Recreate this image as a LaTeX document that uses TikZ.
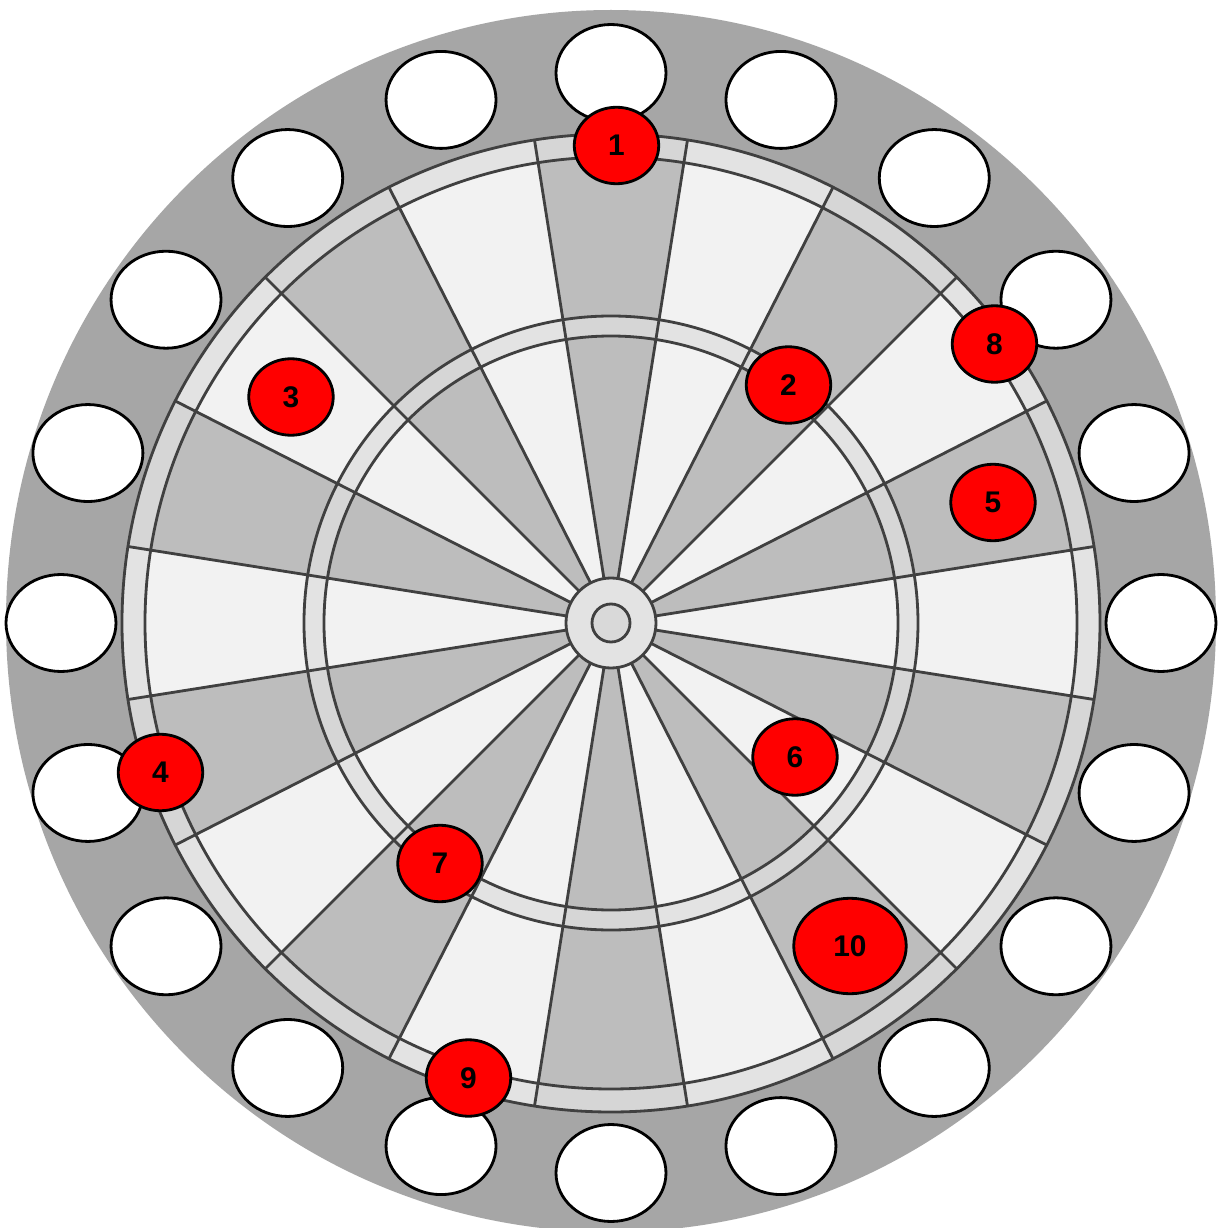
\documentclass[tikz,border=0pt]{standalone}
\usepackage{fontspec}
\setmainfont{Liberation Sans}
\usepackage{tikz}
\usetikzlibrary{shapes.geometric}
\definecolor{rim}{gray}{0.65}
\definecolor{segdark}{gray}{0.74}
\definecolor{seglight}{gray}{0.95}
\definecolor{ringdark}{gray}{0.84}
\definecolor{ringlight}{gray}{0.89}
\definecolor{bullout}{gray}{0.89}
\definecolor{bullin}{gray}{0.85}
\definecolor{wirecol}{gray}{0.25}
\tikzset{
  slot/.style={ellipse, draw=black, fill=white, line width=1.6pt, minimum width=2.2cm, minimum height=1.94cm, inner sep=0pt},
  hit/.style={ellipse, draw=black, fill=red, line width=1.6pt, minimum width=1.69cm, minimum height=1.53cm, inner sep=0pt},
  bighit/.style={hit, minimum width=2.25cm, minimum height=1.91cm},
  wireline/.style={draw=wirecol, line width=1.6pt},
}

\begin{document}
\begin{tikzpicture}[x=0.02cm, y=0.02cm, font=\fontsize{17}{19}\selectfont\bfseries]
\useasboundingbox (-611,-605) rectangle (610,623);
\fill[white] (-611,-605) rectangle (610,623);
\fill[rim] (0,2) ellipse[x radius=605, y radius=611];
\foreach \k in {0,...,19}{
  \pgfmathsetmacro{\a}{81-18*\k}
  \pgfmathsetmacro{\b}{\a+18}
  \ifodd\k\relax \def\sc{seglight}\def\rc{ringlight}\else \def\sc{segdark}\def\rc{ringdark}\fi
  \fill[\sc] (\a:45) -- (\a:489) arc[start angle=\a, end angle=\b, radius=489] -- (\b:45) arc[start angle=\b, end angle=\a, radius=45] -- cycle;
  \fill[\rc] (\a:466) -- (\a:489) arc[start angle=\a, end angle=\b, radius=489] -- (\b:466) arc[start angle=\b, end angle=\a, radius=466] -- cycle;
  \fill[\rc] (\a:287) -- (\a:307) arc[start angle=\a, end angle=\b, radius=307] -- (\b:287) arc[start angle=\b, end angle=\a, radius=287] -- cycle;
}
\fill[bullout] (0,0) circle[radius=45];
\fill[bullin] (0,0) circle[radius=19];
\foreach \k in {0,...,19}
  \draw[wireline] ({9+18*\k}:45) -- ({9+18*\k}:489);
\foreach \r in {489,466,307,287,45,19}
  \draw[wireline] (0,0) circle[radius=\r];

\foreach \k in {0,...,19}
  \node[slot] (s\k) at ({90-18*\k}:550) {};

\node[hit] (n1) at (5.5,477.5) {1};
\node[hit] (n2) at (177.5,238) {2};
\node[hit] (n3) at (-320,226) {3};
\node[hit] (n4) at (-450.5,-149.5) {4};
\node[hit] (n5) at (382,120.5) {5};
\node[hit] (n6) at (184,-134) {6};
\node[hit] (n7) at (-171,-240.5) {7};
\node[hit] (n8) at (383.5,279) {8};
\node[hit] (n9) at (-142.5,-455) {9};
\node[bighit] (n10) at (239,-323) {10};
\end{tikzpicture}
\end{document}
